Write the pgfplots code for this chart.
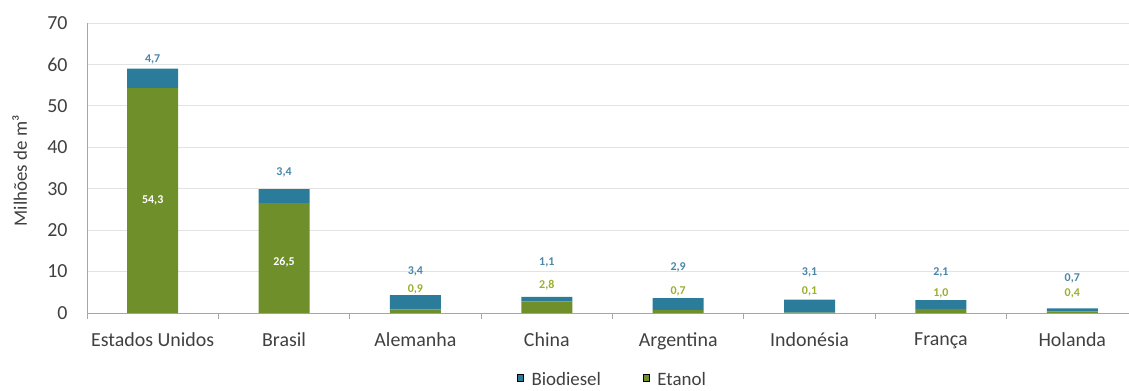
\documentclass[border=0pt]{standalone}
\usepackage{fontspec}
\setmainfont{Carlito}
\usepackage{pgfplots}
\pgfplotsset{compat=1.18}
\definecolor{bio}{HTML}{2B7C9B}
\definecolor{eta}{HTML}{6F8F2A}
\definecolor{biolab}{HTML}{4A86A8}
\definecolor{etalab}{HTML}{9CAE2E}
\definecolor{gridc}{HTML}{E3E3E3}
\definecolor{axc}{HTML}{A6A6A6}
\tikzset{lab/.style={font=\fontsize{12}{13}\selectfont\bfseries}}
\begin{document}
\begin{tikzpicture}
\path[use as bounding box] (-87bp,-78bp) rectangle (1042bp,313bp);
\begin{axis}[
  scale only axis, width=1051bp, height=290bp,
  ybar stacked, bar width=51bp,
  xmin=-0.5, xmax=7.5, ymin=0, ymax=70,
  xtick={0,...,7},
  xticklabels={Estados Unidos, Brasil, Alemanha, China, Argentina, Indonésia, França, Holanda},
  extra x ticks={-0.5,0.5,1.5,2.5,3.5,4.5,5.5,6.5,7.5},
  extra x tick labels={},
  extra x tick style={major tick length=6bp, tick style={draw=axc, line width=0.8bp}},
  ytick={0,10,...,70},
  axis x line*=bottom, axis y line*=left,
  axis line style={-, draw=axc, line width=0.8bp},
  tick align=outside,
  major tick length=0pt,
  ymajorgrids, grid style={draw=gridc, line width=1bp},
  /pgf/number format/assume math mode=true,
  tick label style={font=\fontsize{20}{24}\selectfont, text=black!75},
  yticklabel style={xshift=-16bp},
  xticklabel style={yshift=-16bp},
  ylabel={Milhões de m³},
  ylabel style={font=\fontsize{19}{22}\selectfont, text=black!75, at={(axis description cs:-0.064,0.49)}, anchor=center},
  legend style={at={(axis description cs:0.5,-0.23)}, anchor=center, draw=none, fill=none,
    legend columns=2, font=\fontsize{19}{22}\selectfont, text=black!75,
    /tikz/every odd column/.append style={column sep=6bp},
    /tikz/every even column/.append style={column sep=40bp}},
  reverse legend,
]
\addplot[fill=eta, draw=none] coordinates {(0,54.3) (1,26.5) (2,0.9) (3,2.8) (4,0.7) (5,0.1) (6,1.0) (7,0.4)};
\addplot[fill=bio, draw=none] coordinates {(0,4.7) (1,3.4) (2,3.4) (3,1.1) (4,2.9) (5,3.1) (6,2.1) (7,0.7)};
\legend{Etanol, Biodiesel}
\coordinate (b0) at (axis cs:0,61.1);
\coordinate (e0) at (axis cs:0,27.3);
\coordinate (b1) at (axis cs:1,34.0);
\coordinate (e1) at (axis cs:1,12.3);
\coordinate (b2) at (axis cs:2,10.1);
\coordinate (e2) at (axis cs:2,5.8);
\coordinate (b3) at (axis cs:3,12.1);
\coordinate (e3) at (axis cs:3,6.8);
\coordinate (b4) at (axis cs:4,10.9);
\coordinate (e4) at (axis cs:4,5.1);
\coordinate (b5) at (axis cs:5,9.9);
\coordinate (e5) at (axis cs:5,5.1);
\coordinate (b6) at (axis cs:6,9.9);
\coordinate (e6) at (axis cs:6,4.8);
\coordinate (b7) at (axis cs:7,8.4);
\coordinate (e7) at (axis cs:7,4.8);
\end{axis}
\node[lab, text=biolab] at (b0) {4,7};
\node[lab, text=white] at (e0) {54,3};
\node[lab, text=biolab] at (b1) {3,4};
\node[lab, text=white] at (e1) {26,5};
\node[lab, text=biolab] at (b2) {3,4};
\node[lab, text=etalab] at (e2) {0,9};
\node[lab, text=biolab] at (b3) {1,1};
\node[lab, text=etalab] at (e3) {2,8};
\node[lab, text=biolab] at (b4) {2,9};
\node[lab, text=etalab] at (e4) {0,7};
\node[lab, text=biolab] at (b5) {3,1};
\node[lab, text=etalab] at (e5) {0,1};
\node[lab, text=biolab] at (b6) {2,1};
\node[lab, text=etalab] at (e6) {1,0};
\node[lab, text=biolab] at (b7) {0,7};
\node[lab, text=etalab] at (e7) {0,4};
\end{tikzpicture}
\end{document}
